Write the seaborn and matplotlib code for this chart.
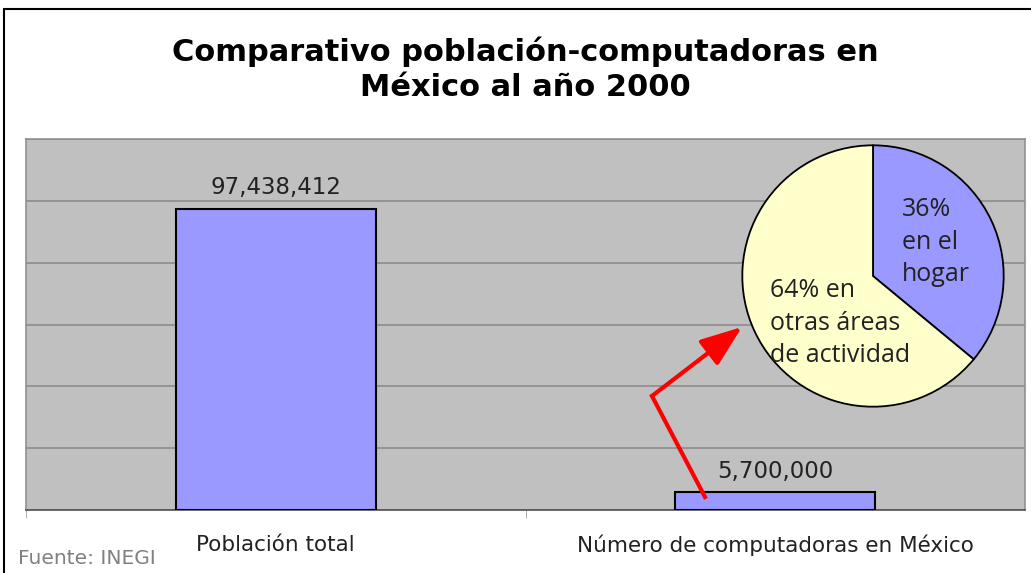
import numpy as np
import pandas as pd
import seaborn as sns
import matplotlib.pyplot as plt
from matplotlib.patches import Rectangle, FancyArrowPatch

# data
categories = ["Población total", "Número de computadoras en México"]
values = [97438412, 5700000]
pie_labels = ["36%\nen el\nhogar", "64% en\notras áreas\nde actividad"]
pie_shares = [36, 64]

df = pd.DataFrame({"categoria": categories, "valor": values})

plt.rcParams['font.family'] = ['DejaVu Sans']

fig = plt.figure(figsize=(10.31, 5.73), dpi=100)
ax = fig.add_axes([26 / 1031, 63 / 573, 999 / 1031, 371 / 573])

ax.set_facecolor("#c0c0c0")
sns.barplot(data=df, x="categoria", y="valor", color="#9999ff", saturation=1,
            width=0.4, edgecolor="black", linewidth=1.5, ax=ax, zorder=3)
ax.set_ylim(0, 120e6)
ax.set_xlim(-0.5, 1.5)
ax.set_yticks(np.arange(0, 120e6 + 1, 20e6))
ax.set_yticklabels([])
ax.tick_params(axis="y", length=0)
ax.grid(axis="y", color="#8c8c8c", linewidth=1.2, zorder=0)
ax.set_axisbelow(True)
ax.set_xlabel("")
ax.set_ylabel("")
ax.tick_params(axis="x", length=0, pad=18, labelsize=15.5, labelcolor="#222222")
ax.set_xticks([-0.5, 0.5], minor=True)
ax.tick_params(axis="x", which="minor", length=6, color="#a0a0a0")
for side in ["top", "right", "left"]:
    ax.spines[side].set_color("#909090")
    ax.spines[side].set_linewidth(1.2)
ax.spines["bottom"].set_color("#505050")
ax.spines["bottom"].set_linewidth(1.2)

ax.bar_label(ax.containers[0], labels=[f"{v:,}" for v in values],
             padding=7, fontsize=16.5, color="#222222")

# inset pie
pax = fig.add_axes([741 / 1031, 165 / 573, 264 / 1031, 264 / 573])
pax.pie(pie_shares, colors=["#9999ff", "#ffffcc"], startangle=90,
        counterclock=False, radius=1,
        wedgeprops=dict(edgecolor="black", linewidth=1.3))
pax.set_xlim(-1.01, 1.01)
pax.set_ylim(-1.01, 1.01)
pax.text(0.22, 0.26, pie_labels[0], fontsize=18, family="Open Sans",
         ha="left", va="center", linespacing=1.4, color="#222222")
pax.text(-0.79, -0.36, pie_labels[1], fontsize=18, family="Open Sans",
         ha="left", va="center", linespacing=1.4, color="#222222")

# red arrow from small bar to the pie
fig.add_artist(plt.Line2D([705 / 1031, 652 / 1031], [1 - 497 / 573, 1 - 396 / 573],
                          color="red", linewidth=3, transform=fig.transFigure))
fig.add_artist(FancyArrowPatch(
    (652 / 1031, 1 - 396 / 573), (742 / 1031, 1 - 327 / 573),
    transform=fig.transFigure, arrowstyle="-|>,head_length=16,head_width=6",
    color="red", linewidth=3, mutation_scale=1.6, shrinkA=0, shrinkB=0))

fig.text(0.51, 1 - 69 / 573, "Comparativo población-computadoras en\nMéxico al año 2000",
         ha="center", va="center", fontsize=22, fontweight="bold", linespacing=1.25)
fig.text(18 / 1031, 1 - 558 / 573, "Fuente: INEGI", ha="left", va="center",
         fontsize=14.5, color="#808080")

# frame around the picture
fig.add_artist(Rectangle((4 / 1031, -0.1), 2, 1.1 - 9 / 573, fill=False,
                         edgecolor="black", linewidth=1.5, transform=fig.transFigure))

plt.savefig("out.png", dpi=100)
